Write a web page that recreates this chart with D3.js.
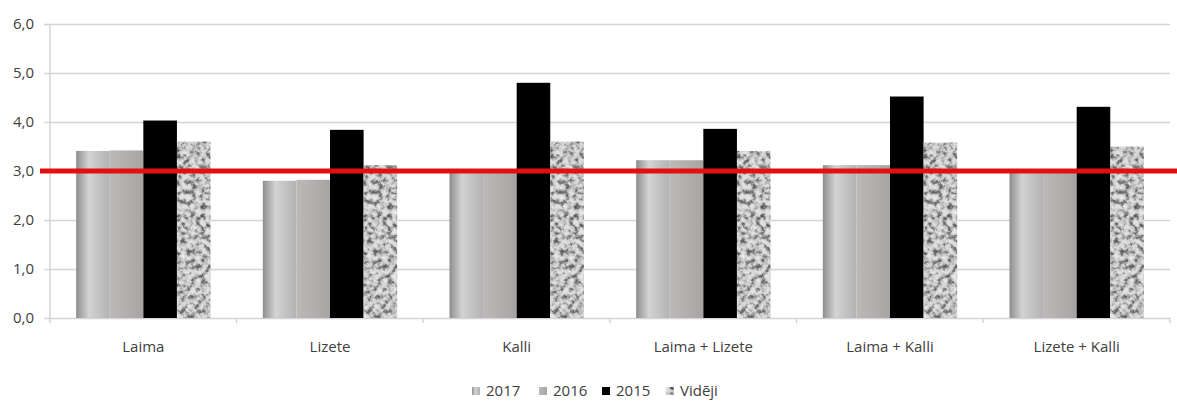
<!DOCTYPE html>
<html>
<head>
<meta charset="utf-8">
<script src="https://cdn.jsdelivr.net/npm/d3@7"></script>
<style>
  html, body { margin: 0; padding: 0; background: #fff; }
  svg { display: block; font-family: "Open Sans", "DejaVu Sans", sans-serif; }
</style>
</head>
<body>
<svg id="chart" width="1177" height="410"></svg>
<script>
// Categories and series
const categories = ["Laima", "Lizete", "Kalli", "Laima + Lizete", "Laima + Kalli", "Lizete + Kalli"];
const seriesNames = ["2017", "2016", "2015", "Vidēji"];
const values2017  = [3.41, 2.80, 2.97, 3.22, 3.12, 2.98];
const values2016  = [3.42, 2.82, 2.97, 3.22, 3.12, 2.98];
const values2015  = [4.03, 3.84, 4.80, 3.86, 4.52, 4.31];
const valuesVideji = [3.60, 3.12, 3.60, 3.41, 3.58, 3.50];
const yTicks = [0, 1, 2, 3, 4, 5, 6];
const threshold = 3.0;

const seriesValues = [values2017, values2016, values2015, valuesVideji];

const svg = d3.select("#chart");
const margin = { left: 50, right: 1170, top: 24, bottom: 318 };

// Fills
const defs = svg.append("defs");
const g17 = defs.append("linearGradient").attr("id", "fill2017").attr("x1", 0).attr("x2", 1).attr("y1", 0).attr("y2", 0);
[["0%", "#8e8e8e"], ["38%", "#d3d3d3"], ["62%", "#c6c6c6"], ["100%", "#b3b3b3"]]
  .forEach(([o, c]) => g17.append("stop").attr("offset", o).attr("stop-color", c));
const g16 = defs.append("linearGradient").attr("id", "fill2016").attr("x1", 0).attr("x2", 1).attr("y1", 0).attr("y2", 0);
[["0%", "#bdb9b8"], ["100%", "#a8a4a3"]]
  .forEach(([o, c]) => g16.append("stop").attr("offset", o).attr("stop-color", c));

// Granite texture for the average series
const granite = defs.append("filter").attr("id", "granite")
  .attr("x", 0).attr("y", 0).attr("width", 1).attr("height", 1)
  .attr("color-interpolation-filters", "sRGB");
granite.append("feTurbulence").attr("type", "fractalNoise")
  .attr("baseFrequency", 0.2).attr("numOctaves", 3).attr("seed", 7).attr("result", "noise");
granite.append("feColorMatrix").attr("in", "noise").attr("type", "matrix")
  .attr("values", "1 0 0 0 0  1 0 0 0 0  1 0 0 0 0  0 0 0 0 1").attr("result", "gray");
const ct = granite.append("feComponentTransfer").attr("in", "gray").attr("result", "tone");
const table = "0.3 0.33 0.38 0.5 0.7 0.82 0.87 0.9 0.93 0.95";
["feFuncR", "feFuncG", "feFuncB"].forEach(f => ct.append(f).attr("type", "table").attr("tableValues", table));
granite.append("feComposite").attr("in", "tone").attr("in2", "SourceGraphic").attr("operator", "in");

const fills = ["url(#fill2017)", "url(#fill2016)", "#000000", "#cccccc"];
const filters = [null, null, null, "url(#granite)"];

// Scales
const x0 = d3.scaleBand().domain(categories).range([margin.left, margin.right])
  .paddingInner(0.28).paddingOuter(0.14);
const x1 = d3.scaleBand().domain(seriesNames).range([0, x0.bandwidth()]);
const y = d3.scaleLinear().domain([0, 6]).range([margin.bottom, margin.top]);

const fmt = v => d3.format(".1f")(v).replace(".", ",");

// Grid lines and y axis labels
const yAxis = svg.append("g").attr("transform", `translate(${margin.left},0)`)
  .call(d3.axisLeft(y).tickValues(yTicks).tickFormat(fmt)
    .tickSize(-(margin.right - margin.left)).tickPadding(16));
yAxis.select(".domain").remove();
yAxis.selectAll(".tick line").attr("stroke", "#d4d4d4").attr("stroke-width", 1.5)
  .attr("x2", margin.right - margin.left).attr("x1", -6);
yAxis.selectAll(".tick text").attr("fill", "#404040").style("font-size", "15px")
  .style("font-family", "\"Open Sans\", sans-serif");

// Vertical axis line
svg.append("line").attr("x1", margin.left).attr("x2", margin.left)
  .attr("y1", y(6)).attr("y2", y(0)).attr("stroke", "#d4d4d4").attr("stroke-width", 1.5);

// Category boundary ticks under the base line
const bounds = categories.map(c => x0(c) - x0.step() * x0.paddingInner() / 2)
  .concat([margin.right]);
svg.append("g").selectAll("line").data(bounds).join("line")
  .attr("x1", d => d).attr("x2", d => d)
  .attr("y1", y(0)).attr("y2", y(0) + 5)
  .attr("stroke", "#d4d4d4").attr("stroke-width", 1.5);

// Bars
const groups = svg.append("g").selectAll("g").data(categories).join("g")
  .attr("transform", d => `translate(${x0(d)},0)`);
groups.selectAll("rect")
  .data((c, i) => seriesNames.map((s, k) => ({ s, k, v: seriesValues[k][i] })))
  .join("rect")
  .attr("x", d => x1(d.s))
  .attr("width", x1.bandwidth())
  .attr("y", d => y(d.v))
  .attr("height", d => y(0) - y(d.v))
  .attr("fill", d => fills[d.k])
  .attr("filter", d => filters[d.k]);

// Category labels
svg.append("g").selectAll("text").data(categories).join("text")
  .attr("x", d => x0(d) + x0.bandwidth() / 2)
  .attr("y", 352)
  .attr("text-anchor", "middle")
  .attr("fill", "#404040")
  .style("font-size", "15px")
  .text(d => d);

// Threshold line
svg.append("line")
  .attr("x1", 40).attr("x2", 1177)
  .attr("y1", y(threshold)).attr("y2", y(threshold))
  .attr("stroke", "#e41010").attr("stroke-width", 5);

// Legend
const legendX = [472, 539, 602, 666];
const legend = svg.append("g").selectAll("g").data(seriesNames).join("g")
  .attr("transform", (d, i) => `translate(${legendX[i]},0)`);
legend.append("rect")
  .attr("x", 0).attr("y", 387).attr("width", 8).attr("height", 8)
  .attr("fill", (d, i) => fills[i])
  .attr("filter", (d, i) => filters[i]);
legend.append("text")
  .attr("x", 14).attr("y", 396)
  .attr("fill", "#404040")
  .style("font-size", "15px")
  .text(d => d);
</script>
</body>
</html>
